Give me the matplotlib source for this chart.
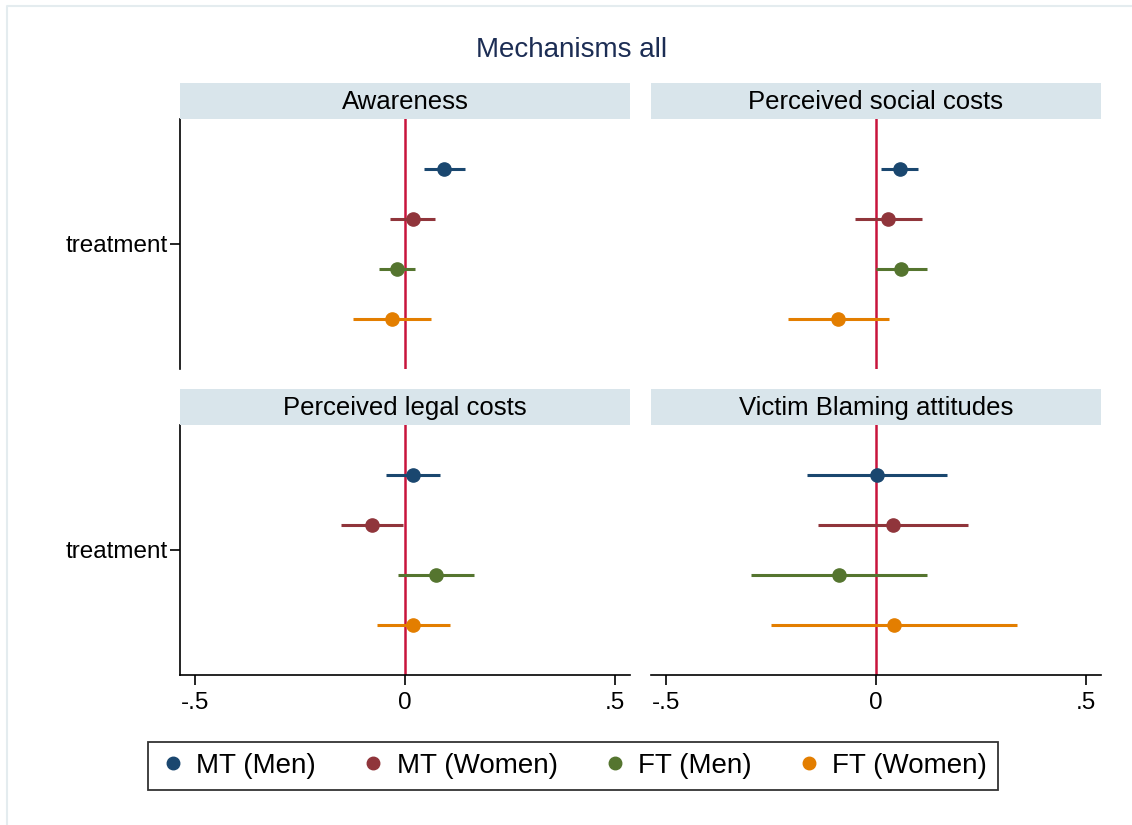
import matplotlib
matplotlib.use("Agg")
import matplotlib.pyplot as plt
from matplotlib.lines import Line2D

plt.rcParams['font.family'] = ['Liberation Sans', 'DejaVu Sans']

# panels (outcomes) in reading order
panels = ["Awareness", "Perceived social costs",
          "Perceived legal costs", "Victim Blaming attitudes"]
series = ["MT (Men)", "MT (Women)", "FT (Men)", "FT (Women)"]
colors = ["#1a476f", "#90353b", "#55752f", "#e37e00"]

# point estimates per panel, one value per series
coef = [
    [0.093, 0.019, -0.020, -0.031],
    [0.056, 0.029, 0.060, -0.090],
    [0.019, -0.079, 0.074, 0.020],
    [0.002, 0.040, -0.088, 0.043],
]
ci_low = [
    [0.044, -0.035, -0.061, -0.123],
    [0.013, -0.049, 0.000, -0.210],
    [-0.046, -0.153, -0.016, -0.067],
    [-0.165, -0.137, -0.297, -0.249],
]
ci_high = [
    [0.143, 0.071, 0.024, 0.062],
    [0.101, 0.109, 0.121, 0.030],
    [0.083, -0.005, 0.164, 0.108],
    [0.169, 0.219, 0.121, 0.335],
]
offsets = [0.3, 0.1, -0.1, -0.3]

W, H = 1132, 825
fig = plt.figure(figsize=(W / 100, H / 100), dpi=100)
fig.patch.set_facecolor('white')

# light outer border (top and left edges only show in the export)
fig.add_artist(Line2D([7 / W, 7 / W, 1.0], [0.0, 1 - 6 / H, 1 - 6 / H],
                      transform=fig.transFigure, color='#e4ecef', lw=1.5))

fig.text(572 / W, 1 - 50 / H, "Mechanisms all", ha='center', va='center',
         fontsize=20, color='#1c2d54')

# pixel boxes: (x0, x1, ytop, ybottom, strip_top)
boxes = [(180, 630, 119, 369, 83), (651, 1101, 119, 369, 83),
         (180, 630, 425, 675, 389), (651, 1101, 425, 675, 389)]
strip_color = '#d9e5eb'

for i, (x0, x1, yt, yb, st) in enumerate(boxes):
    ax = fig.add_axes([x0 / W, 1 - yb / H, (x1 - x0) / W, (yb - yt) / H])
    # strip header
    sax = fig.add_axes([x0 / W, 1 - yt / H, (x1 - x0) / W, (yt - st) / H])
    sax.set_facecolor(strip_color)
    sax.set_xticks([]); sax.set_yticks([])
    for s in sax.spines.values():
        s.set_visible(False)
    sax.text(0.5, 0.48, panels[i], ha='center', va='center', fontsize=18.5,
             transform=sax.transAxes)

    ax.axvline(0, color='#c8143c', lw=1.8, zorder=1)
    for k in range(len(series)):
        y = 1 + offsets[k]
        ax.plot([ci_low[i][k], ci_high[i][k]], [y, y], color=colors[k],
                lw=2.2, solid_capstyle='butt', zorder=2)
        ax.plot(coef[i][k], y, 'o', color=colors[k], ms=9.5, zorder=3)

    ax.set_xlim(-0.535, 0.535)
    ax.set_ylim(0.5, 1.5)
    ax.spines['top'].set_visible(False)
    ax.spines['right'].set_visible(False)
    ax.spines['bottom'].set_linewidth(1.2)
    ax.spines['left'].set_linewidth(1.2)

    if i % 2 == 0:
        ax.set_yticks([1])
        ax.set_yticklabels(["treatment"], fontsize=17.5)
        ax.tick_params(axis='y', length=7, width=1.2, pad=2)
    else:
        ax.spines['left'].set_visible(False)
        ax.set_yticks([])

    if i >= 2:
        ax.set_xticks([-0.5, 0, 0.5])
        ax.set_xticklabels(["-.5", "0", ".5"], fontsize=17.5)
        ax.tick_params(axis='x', length=7, width=1.2, pad=5)
    else:
        ax.spines['bottom'].set_visible(False)
        ax.set_xticks([])

handles = [Line2D([], [], marker='o', linestyle='none', color=c, markersize=9)
           for c in colors]
leg = fig.legend(handles, series, loc='center', ncol=4,
                 bbox_to_anchor=(573 / W, 1 - 766 / H), fontsize=20,
                 frameon=True, fancybox=False, handletextpad=0.35,
                 columnspacing=1.55, borderpad=0.4, handlelength=1.0)
leg.get_frame().set_edgecolor('black')
leg.get_frame().set_linewidth(1.3)

fig.savefig("out.png", dpi=100, facecolor='white')
